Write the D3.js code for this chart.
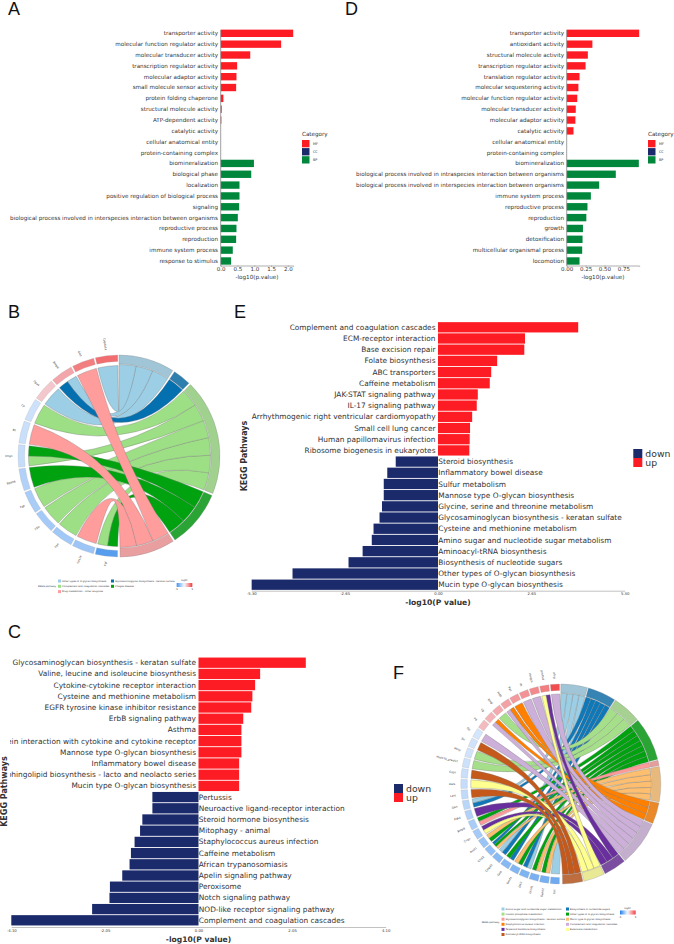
<!DOCTYPE html>
<html>
<head>
<meta charset="utf-8">
<script src="https://cdn.jsdelivr.net/npm/d3@7"></script>
<style>
  body { margin: 0; background: #fff; }
  text { font-family: "DejaVu Sans", sans-serif; fill: #333; }
  .letter { font-family: "Liberation Sans", sans-serif; font-size: 18px; fill: #111; }
</style>
</head>
<body>
<div id="chart"></div>
<script>
// panel A
var aTerms = ["transporter activity", "molecular function regulator activity", "molecular transducer activity", "transcription regulator activity", "molecular adaptor activity", "small molecule sensor activity", "protein folding chaperone", "structural molecule activity", "ATP-dependent activity", "catalytic activity", "cellular anatomical entity", "protein-containing complex", "biomineralization", "biological phase", "localization", "positive regulation of biological process", "signaling", "biological process involved in interspecies interaction between organisms", "reproductive process", "reproduction", "immune system process", "response to stimulus"];
var aValues = [2.16, 1.80, 0.88, 0.49, 0.47, 0.46, 0.08, 0.03, 0.02, 0, 0, 0, 0.99, 0.91, 0.56, 0.56, 0.55, 0.51, 0.47, 0.46, 0.36, 0.31];
var aGroups = ["MF", "MF", "MF", "MF", "MF", "MF", "MF", "MF", "MF", "MF", "CC", "CC", "BP", "BP", "BP", "BP", "BP", "BP", "BP", "BP", "BP", "BP"];
var aTicks = [0, 0.5, 1, 1.5, 2];

// panel D
var dTerms = ["transporter activity", "antioxidant activity", "structural molecule activity", "transcription regulator activity", "translation regulator activity", "molecular sequestering activity", "molecular function regulator activity", "molecular transducer activity", "molecular adaptor activity", "catalytic activity", "cellular anatomical entity", "protein-containing complex", "biomineralization", "biological process involved in intraspecies interaction between organisms", "biological process involved in interspecies interaction between organisms", "immune system process", "reproductive process", "reproduction", "growth", "detoxification", "multicellular organismal process", "locomotion"];
var dValues = [0.96, 0.34, 0.28, 0.25, 0.17, 0.155, 0.14, 0.12, 0.115, 0.09, 0, 0, 0.955, 0.65, 0.43, 0.32, 0.275, 0.26, 0.215, 0.21, 0.205, 0.17];
var dGroups = aGroups;
var dTicks = [0, 0.25, 0.5, 0.75];

// panel E
var ePathways = ["Complement and coagulation cascades", "ECM-receptor interaction", "Base excision repair", "Folate biosynthesis", "ABC transporters", "Caffeine metabolism", "JAK-STAT signaling pathway", "IL-17 signaling pathway", "Arrhythmogenic right ventricular cardiomyopathy", "Small cell lung cancer", "Human papillomavirus infection", "Ribosome biogenesis in eukaryotes", "Steroid biosynthesis", "Inflammatory bowel disease", "Sulfur metabolism", "Mannose type O-glycan biosynthesis", "Glycine, serine and threonine metabolism", "Glycosaminoglycan biosynthesis - keratan sulfate", "Cysteine and methionine metabolism", "Amino sugar and nucleotide sugar metabolism", "Aminoacyl-tRNA biosynthesis", "Biosynthesis of nucleotide sugars", "Other types of O-glycan biosynthesis", "Mucin type O-glycan biosynthesis"];
var eValues = [3.98, 2.47, 2.45, 1.68, 1.51, 1.47, 1.13, 1.10, 0.97, 0.91, 0.90, 0.89, -1.20, -1.44, -1.54, -1.54, -1.59, -1.66, -1.83, -1.88, -2.14, -2.54, -4.13, -5.29];
var eTicks = [-5.30, -2.65, 0, 2.65, 5.30];

// panel C
var cPathways = ["Glycosaminoglycan biosynthesis - keratan sulfate", "Valine, leucine and isoleucine biosynthesis", "Cytokine-cytokine receptor interaction", "Cysteine and methionine metabolism", "EGFR tyrosine kinase inhibitor resistance", "ErbB signaling pathway", "Asthma", "Viral protein interaction with cytokine and cytokine receptor", "Mannose type O-glycan biosynthesis", "Inflammatory bowel disease", "Glycosphingolipid biosynthesis - lacto and neolacto series", "Mucin type O-glycan biosynthesis", "Pertussis", "Neuroactive ligand-receptor interaction", "Steroid hormone biosynthesis", "Mitophagy - animal", "Staphylococcus aureus infection", "Caffeine metabolism", "African trypanosomiasis", "Apelin signaling pathway", "Peroxisome", "Notch signaling pathway", "NOD-like receptor signaling pathway", "Complement and coagulation cascades"];
var cValues = [2.35, 1.35, 1.24, 1.18, 1.155, 0.98, 0.94, 0.94, 0.94, 0.89, 0.89, 0.89, -1.01, -1.01, -1.23, -1.28, -1.40, -1.48, -1.51, -1.67, -1.94, -1.95, -2.33, -4.10];
var cTicks = [-4.10, -2.05, 0, 2.05, 4.10];

// panel B, genes run clockwise from the bottom of the circle
var bGenes = ["Fgl", "Ces1e", "Fbn", "F9b", "Fgb", "Bgalt6", "Chgn", "Bf", "Cp", "Dpys", "Bmp6", "Gart", "Cyp4a14"];
var bLogFC = [-4, -2.2, -2.1, -2, -1.9, -1.7, -1.2, -1.1, -1, 1.2, 2, 3, 3.4];
var bLinks = [[3, 2], [4], [2], [2], [2], [3], [2, 3], [4], [2], [0], [1, 0], [4], [0]];
var bPathways = ["Other types of O-glycan biosynthesis", "Glycosaminoglycan biosynthesis - keratan sulfate", "Complement and coagulation cascades", "Chagas disease", "Drug metabolism - other enzymes"];
var bSpan = [32.3, 10.5, 67, 33.5, 32];
var bColors = ["#9ccfe6", "#0570b0", "#9ddf85", "#00a30f", "#ff9c9c"];
var bLegend = [[0, 2, 4], [1, 3]];

// panel F
var fGenes = ["Ust", "Galnt1", "Gcnt1", "Jak2", "Gmds", "Gne", "Cmpk2", "Chst1", "Amd1", "Chgn", "Bmp6", "Pdk4", "Gart", "Lars", "Aars", "Sesn", "Hsd11b_predict", "Mmp", "Slc", "Gp", "F8", "Cp", "Bmp", "Aldh", "Pgt", "Ift", "Hmgcs", "prolfkd", "pfkg"];
var fLogFC = [-3.4, -3.2, -3.1, -3, -2.9, -2.8, -2.7, -2.5, -2.3, -2, -1.9, -1.7, -1.5, -1.3, -1.2, -1.1, -1, -0.9, -0.9, -0.8, 1.5, 1.7, 1.9, 2.1, 2.3, 2.5, 2.7, 3, 4.2];
var fLinks = [[0], [5, 3], [5, 3], [0, 1], [3, 5], [1, 3], [1, 0], [5, 3, 1], [3, 5], [9, 8], [4, 3], [8], [1, 0], [10], [9], [10], [2], [2], [10], [7], [], [7, 6], [2], [7, 6], [6], [7], [7], [9, 8], [7]];
var fPathways = ["Amino sugar and nucleotide sugar metabolism", "Biosynthesis of nucleotide sugars", "Inositol phosphate metabolism", "Other types of O-glycan biosynthesis", "Glycosaminoglycan biosynthesis - keratan sulfate", "Mucin type O-glycan biosynthesis", "Staphylococcus aureus infection", "Complement and coagulation cascades", "Terpenoid backbone biosynthesis", "Butanoate metabolism", "Aminoacyl-tRNA biosynthesis"];
var fSpan = [15.8, 16.8, 17, 25.8, 3.1, 20.8, 12.6, 26.6, 13.4, 12.6, 12];
var fColors = ["#9ccfe6", "#0f78b8", "#a6df8a", "#00a30f", "#fb9a99", "#fdbf6f", "#ff7f00", "#cdb0d9", "#6a2f9e", "#ffff8f", "#c5591b"];
var fLegend = [[0, 2, 4, 6, 8, 10], [1, 3, 5, 7, 9]];

var groupColor = { MF: "#fe1c24", CC: "#1b2a6b", BP: "#00873c" };
var upColor = "#fe1c24", downColor = "#1b2a6b";

var svg = d3.select("#chart").append("svg")
  .attr("width", 674)
  .attr("height", 944)
  .style("display", "block");

svg.selectAll("text.letter")
  .data([["A", 8, 14.5], ["D", 345, 14.5], ["B", 8, 318], ["E", 234, 318], ["C", 8, 638], ["F", 393, 679]])
  .enter().append("text")
  .attr("class", "letter")
  .attr("x", d => d[1])
  .attr("y", d => d[2])
  .text(d => d[0]);

function goBars(terms, values, groups, o) {
  var g = svg.append("g");
  var x = d3.scaleLinear().domain([0, o.xMax]).range([o.x0, o.x1]);
  var y = d3.scaleBand().domain(terms).range([27.9, 266.4]).paddingInner(0.32).paddingOuter(0.16);

  g.selectAll("rect").data(terms).enter().append("rect")
    .attr("x", x(0))
    .attr("y", d => y(d))
    .attr("width", (d, i) => x(values[i]) - x(0))
    .attr("height", y.bandwidth())
    .attr("fill", (d, i) => groupColor[groups[i]]);

  g.selectAll("text.term").data(terms).enter().append("text")
    .attr("class", "term")
    .attr("x", o.x0 - 2.7)
    .attr("y", d => y(d) + y.bandwidth() / 2)
    .attr("dy", "0.35em")
    .attr("text-anchor", "end")
    .style("font-size", "5.64px")
    .text(d => d);

  var axis = g.append("g")
    .attr("transform", "translate(0,265.5)")
    .call(d3.axisBottom(x).tickValues(o.ticks).tickSize(1.2).tickPadding(0.3).tickFormat(d3.format(o.fmt)));
  axis.selectAll("text").style("font-size", "5.5px");
  axis.selectAll("line").attr("stroke", "#777").attr("stroke-width", 0.5);
  axis.select(".domain").attr("stroke", "#999").attr("stroke-width", 0.8);

  g.append("line")
    .attr("x1", o.x0).attr("x2", o.x0)
    .attr("y1", 30).attr("y2", 266)
    .attr("stroke", "#888").attr("stroke-width", 0.8);

  g.append("text")
    .attr("x", (o.x0 + o.x1) / 2)
    .attr("y", 278.5)
    .attr("text-anchor", "middle")
    .style("font-size", "5.64px")
    .text("-log10(p.value)");

  g.append("text")
    .attr("x", o.legendX)
    .attr("y", 136)
    .style("font-size", "5.64px")
    .text("Category");
  ["MF", "CC", "BP"].forEach(function (k, i) {
    g.append("rect")
      .attr("x", o.legendX)
      .attr("y", 140 + i * 8.1)
      .attr("width", 7.5)
      .attr("height", 7.3)
      .attr("fill", groupColor[k]);
    g.append("text")
      .attr("x", o.legendX + 11)
      .attr("y", 143.7 + i * 8.1)
      .attr("dy", "0.35em")
      .style("font-size", "3.4px")
      .text(k);
  });
}

function keggBars(pathways, values, o) {
  var g = svg.append("g");
  var clipId = "clip" + o.id;
  svg.append("clipPath").attr("id", clipId)
    .append("rect").attr("x", o.clipX).attr("y", o.top - 10).attr("width", 674).attr("height", 300);

  var x = d3.scaleLinear().domain([-o.xMax, o.xMax]).range([o.x0, o.x1]);
  var y = d3.scaleBand().domain(pathways).range([o.top, o.bottom]).paddingInner(0.08).paddingOuter(0.04);

  g.selectAll("rect").data(pathways).enter().append("rect")
    .attr("x", (d, i) => x(Math.min(0, values[i])))
    .attr("y", d => y(d))
    .attr("width", (d, i) => Math.abs(x(values[i]) - x(0)))
    .attr("height", y.bandwidth())
    .attr("fill", (d, i) => values[i] > 0 ? upColor : downColor);

  g.append("g").attr("clip-path", "url(#" + clipId + ")")
    .selectAll("text").data(pathways).enter().append("text")
    .attr("x", (d, i) => values[i] > 0 ? x(0) - 2.5 : x(0) + 0.3)
    .attr("y", d => y(d) + y.bandwidth() / 2)
    .attr("dy", "0.35em")
    .attr("text-anchor", (d, i) => values[i] > 0 ? "end" : "start")
    .style("font-size", "7.4px")
    .text(d => d);

  var axis = g.append("g")
    .attr("transform", "translate(0," + o.axisY + ")")
    .call(d3.axisBottom(x).tickValues(o.ticks).tickSize(0).tickPadding(2).tickFormat(d => d.toFixed(2)));
  axis.selectAll("text").style("font-size", "3.8px");
  axis.select(".domain").attr("stroke", "#bbb").attr("stroke-width", 0.9);

  g.append("text")
    .attr("x", x(0))
    .attr("y", o.axisY + 14.5)
    .attr("text-anchor", "middle")
    .style("font-size", "7.6px")
    .style("font-weight", "bold")
    .text("-log10(P value)");

  g.append("text")
    .attr("transform", "translate(" + o.yTitleX + "," + (o.top + o.bottom) / 2 + ") rotate(-90)")
    .attr("text-anchor", "middle")
    .style("font-size", "8px")
    .style("font-weight", "bold")
    .text("KEGG Pathways");

  [["down", downColor], ["up", upColor]].forEach(function (k, i) {
    g.append("rect")
      .attr("x", o.legendX)
      .attr("y", o.legendY + i * 9)
      .attr("width", 9)
      .attr("height", 9)
      .attr("fill", k[1]);
    g.append("text")
      .attr("x", o.legendX + 12)
      .attr("y", o.legendY + i * 9 + 4.5)
      .attr("dy", "0.35em")
      .style("font-size", "9.3px")
      .text(k[0]);
  });
}

function chord(genes, logfc, links, span, colors, o) {
  var g = svg.append("g").attr("transform", "translate(" + o.cx + "," + o.cy + ")");
  var rad = d => d * Math.PI / 180;
  var fc = d3.scaleLinear().domain([-5, 0, 5]).range(["#2f86ea", "#f4f8ff", "#f02c2c"]);
  var ringMix = c => d3.interpolateRgb(c, "#a8a8a8")(0.25);

  // pathway sectors on the right half
  var total = o.end - o.gap * (span.length - 1);
  var size = d3.scaleLinear().domain([0, d3.sum(span)]).range([0, rad(total)]);
  var cum = 0;
  var sectors = span.map(function (v, i) {
    var a0 = size(cum) + rad(o.gap) * i;
    cum += v;
    return { i: i, startAngle: a0, endAngle: size(cum) + rad(o.gap) * i };
  });

  // gene sectors on the left half
  var geneBand = d3.scaleBand().domain(genes).range([rad(180.8), rad(359.3)]).paddingInner(o.genePad);

  var ribbons = [];
  genes.forEach(function (name, gi) {
    var sub = d3.scaleBand().domain(d3.range(links[gi].length)).range([geneBand(name), geneBand(name) + geneBand.bandwidth()]);
    links[gi].forEach(function (p, k) {
      ribbons.push({ gene: gi, p: p, a0: sub(k), a1: sub(k) + sub.bandwidth() });
    });
  });
  sectors.forEach(function (s) {
    var own = ribbons.filter(r => r.p === s.i).sort((a, b) => b.gene - a.gene);
    var sub = d3.scaleBand().domain(d3.range(own.length)).range([s.startAngle, s.endAngle]);
    own.forEach(function (r, k) {
      r.b0 = sub(k);
      r.b1 = sub(k) + sub.bandwidth();
    });
  });
  ribbons.sort((a, b) => a.p - b.p);

  var ribbon = d3.ribbon()
    .source(d => ({ startAngle: d.a0, endAngle: d.a1, radius: o.rGeneLink }))
    .target(d => ({ startAngle: d.b0, endAngle: d.b1, radius: o.rPathLink }));

  g.selectAll("path.link").data(ribbons).enter().append("path")
    .attr("class", "link")
    .attr("d", ribbon)
    .attr("fill", d => colors[d.p])
    .attr("stroke", "#777")
    .attr("stroke-width", 0.35);

  var pathArc = d3.arc().innerRadius(o.rPathLink + 0.6).outerRadius(o.r);
  g.selectAll("path.sector").data(sectors).enter().append("path")
    .attr("class", "sector")
    .attr("d", pathArc)
    .attr("fill", d => ringMix(colors[d.i]))
    .attr("stroke", "#888")
    .attr("stroke-width", 0.3);

  var geneArc = d3.arc()
    .innerRadius(o.r - 6.5)
    .outerRadius(o.r)
    .startAngle(d => geneBand(d))
    .endAngle(d => geneBand(d) + geneBand.bandwidth());
  g.selectAll("path.gene").data(genes).enter().append("path")
    .attr("class", "gene")
    .attr("d", geneArc)
    .attr("fill", (d, i) => fc(logfc[i]))
    .attr("stroke", "#aaa")
    .attr("stroke-width", 0.25);

  g.selectAll("text.gene").data(genes).enter().append("text")
    .attr("class", "gene")
    .attr("transform", function (d) {
      var a = (geneBand(d) + geneBand.bandwidth() / 2) * 180 / Math.PI;
      return "rotate(" + (a - 90) + ") translate(" + (o.r + 5.5) + ",0) rotate(180)";
    })
    .attr("dy", "0.35em")
    .attr("text-anchor", "end")
    .style("font-size", "2.8px")
    .text(d => d);
}

function chordLegend(pathways, colors, layout, o) {
  var g = svg.append("g");
  layout.forEach(function (col, c) {
    col.forEach(function (p, r) {
      g.append("rect")
        .attr("x", o.colX[c])
        .attr("y", o.y + r * o.dy - 1.5)
        .attr("width", 3)
        .attr("height", 3)
        .attr("fill", colors[p]);
      g.append("text")
        .attr("x", o.colX[c] + 4)
        .attr("y", o.y + r * o.dy)
        .attr("dy", "0.35em")
        .style("font-size", "2.4px")
        .text(pathways[p]);
    });
  });
  g.append("text")
    .attr("x", o.titleX)
    .attr("y", o.titleY)
    .attr("dy", "0.35em")
    .style("font-size", "2.4px")
    .text("KEGG pathway");

  var fc = d3.scaleLinear().domain([0, 0.5, 1]).range(["#2f86ea", "#f4f8ff", "#f02c2c"]);
  var stops = d3.range(16);
  var bar = d3.scaleBand().domain(stops).range([o.barX, o.barX + 15.5]);
  g.selectAll("rect.fc").data(stops).enter().append("rect")
    .attr("class", "fc")
    .attr("x", d => bar(d))
    .attr("y", o.barY)
    .attr("width", bar.bandwidth() + 0.1)
    .attr("height", 4)
    .attr("fill", d => fc(d / 15));
  g.append("text").attr("x", o.barX + 7.7).attr("y", o.barY - 2).attr("text-anchor", "middle").style("font-size", "2.4px").text("logFC");
  g.append("text").attr("x", o.barX).attr("y", o.barY + 7).attr("text-anchor", "middle").style("font-size", "2.4px").text("-5");
  g.append("text").attr("x", o.barX + 15.5).attr("y", o.barY + 7).attr("text-anchor", "middle").style("font-size", "2.4px").text("5");
}

goBars(aTerms, aValues, aGroups, { x0: 220.7, x1: 293.2, xMax: 2.16, ticks: aTicks, fmt: ".1f", legendX: 302 });
goBars(dTerms, dValues, dGroups, { x0: 566.7, x1: 639.2, xMax: 0.96, ticks: dTicks, fmt: ".2f", legendX: 648 });

keggBars(ePathways, eValues, { id: "E", x0: 251.3, x1: 624.7, xMax: 5.30, ticks: eTicks, top: 321.7, bottom: 590.3, axisY: 590.7, clipX: 0, yTitleX: 246.5, legendX: 633.3, legendY: 449 });
keggBars(cPathways, cValues, { id: "C", x0: 11.3, x1: 385.7, xMax: 4.10, ticks: cTicks, top: 657.1, bottom: 925.9, axisY: 927, clipX: 10, yTitleX: 7.3, legendX: 394, legendY: 784 });

chord(bGenes, bLogFC, bLinks, bSpan, bColors, { cx: 119, cy: 456, r: 101, rGeneLink: 90.5, rPathLink: 91.5, end: 179.4, gap: 1.2, genePad: 0.07 });
chordLegend(bPathways, bColors, bLegend, { colX: [58, 111], y: 581, dy: 5.3, titleX: 38, titleY: 586.3, barX: 176.7, barY: 583 });

chord(fGenes, fLogFC, fLinks, fSpan, fColors, { cx: 560.8, cy: 784, r: 100, rGeneLink: 90, rPathLink: 90.5, end: 179, gap: 0.6, genePad: 0.14 });
chordLegend(fPathways, fColors, fLegend, { colX: [501.5, 566], y: 909, dy: 5.1, titleX: 481.7, titleY: 922, barX: 620, barY: 910.5 });
</script>
</body>
</html>
